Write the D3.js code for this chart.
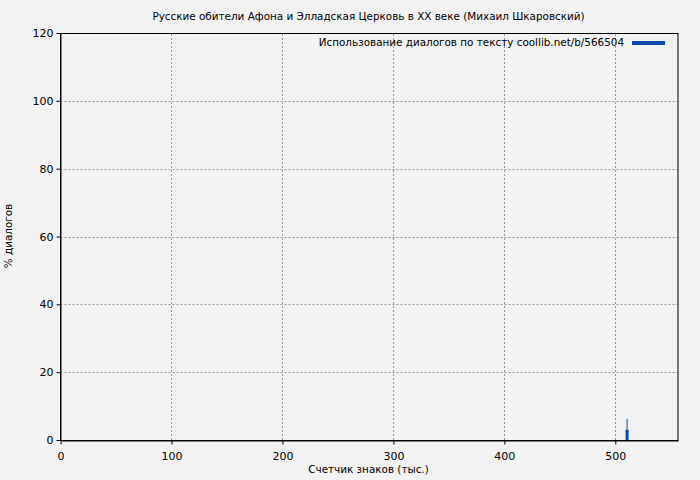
<!DOCTYPE html>
<html>
<head>
<meta charset="utf-8">
<script src="https://cdn.jsdelivr.net/npm/d3@7"></script>
<style>
  body { margin: 0; background: #f2f2f2; }
  svg { display: block; font-family: "DejaVu Sans", sans-serif; }
</style>
</head>
<body>
<div id="chart"></div>
<script>
// Chart data.
var title = 'Русские обители Афона и Элладская Церковь в XX веке (Михаил Шкаровский)';
var legendLabel = 'Использование диалогов по тексту coollib.net/b/566504';
var xTicks = [0, 100, 200, 300, 400, 500];
var yTicks = [0, 20, 40, 60, 80, 100, 120];
var wideX = [510.6];
var wideVals = [3];
var thinX = [510.6];
var thinVals = [6.2];

var W = 700, H = 480;
var m = { top: 33, right: 22, bottom: 40, left: 60.5 };
var blue = '#0c47a8';
var fs = 10.4;

var svg = d3.select('#chart')
  .append('svg')
  .attr('width', W)
  .attr('height', H);

svg.append('rect')
  .attr('width', W)
  .attr('height', H)
  .attr('fill', '#f2f2f2');

var x = d3.scaleLinear().domain([0, 556.5]).range([m.left, W - m.right]);
var y = d3.scaleLinear().domain([0, 120]).range([H - m.bottom, m.top]);

// Grid.
var grid = svg.append('g')
  .attr('stroke', '#999')
  .attr('stroke-width', 1)
  .attr('stroke-dasharray', '2,2');
grid.selectAll('.gx')
  .data(xTicks.slice(1))
  .enter().append('line')
  .attr('x1', function (d) { return Math.round(x(d)) + 0.5; })
  .attr('x2', function (d) { return Math.round(x(d)) + 0.5; })
  .attr('y1', y(0))
  .attr('y2', y(120));
grid.selectAll('.gy')
  .data(yTicks.slice(1, -1))
  .enter().append('line')
  .attr('x1', x(0))
  .attr('x2', x.range()[1])
  .attr('y1', function (d) { return Math.round(y(d)) + 0.5; })
  .attr('y2', function (d) { return Math.round(y(d)) + 0.5; });

// Bars.
svg.selectAll('.wide')
  .data(wideVals)
  .enter().append('rect')
  .attr('x', function (d, i) { return x(wideX[i]) - 1.5; })
  .attr('width', 3)
  .attr('y', function (d) { return y(d); })
  .attr('height', function (d) { return y(0) - y(d); })
  .attr('fill', blue);
svg.selectAll('.thin')
  .data(thinVals)
  .enter().append('rect')
  .attr('x', function (d, i) { return x(thinX[i]) - 0.5; })
  .attr('width', 1)
  .attr('y', function (d) { return y(d); })
  .attr('height', function (d) { return y(0) - y(d); })
  .attr('fill', blue);

// Axes.
var xAxis = svg.append('g')
  .attr('transform', 'translate(0,' + (y(0) + 0.5) + ')')
  .call(d3.axisBottom(x).tickValues(xTicks).tickSize(4).tickSizeOuter(0));
var yAxis = svg.append('g')
  .attr('transform', 'translate(' + x(0) + ',0)')
  .call(d3.axisLeft(y).tickValues(yTicks).tickSize(4).tickSizeOuter(0));
[xAxis, yAxis].forEach(function (a) {
  a.selectAll('text').attr('font-size', 11).attr('fill', '#000')
    .style('font-family', '"DejaVu Sans", sans-serif');
  a.selectAll('line, path').attr('stroke', '#000');
});
xAxis.selectAll('text').attr('dy', '1.1em');

// Frame.
svg.append('rect')
  .attr('x', x(0))
  .attr('y', y(120) + 0.5)
  .attr('width', x.range()[1] - x(0))
  .attr('height', y(0) - y(120))
  .attr('fill', 'none')
  .attr('stroke', '#000');

// Texts.
svg.append('text')
  .attr('x', 368.5)
  .attr('y', 20)
  .attr('text-anchor', 'middle')
  .attr('font-size', fs)
  .text(title);
svg.append('text')
  .attr('x', 368.5)
  .attr('y', 473)
  .attr('text-anchor', 'middle')
  .attr('font-size', fs)
  .text('Счетчик знаков (тыс.)');
svg.append('text')
  .attr('transform', 'translate(12,236) rotate(-90)')
  .attr('text-anchor', 'middle')
  .attr('font-size', fs)
  .text('% диалогов');

// Legend.
svg.append('text')
  .attr('x', 624)
  .attr('y', 46)
  .attr('text-anchor', 'end')
  .attr('font-size', fs)
  .text(legendLabel);
svg.append('line')
  .attr('x1', 632)
  .attr('x2', 665)
  .attr('y1', 43)
  .attr('y2', 43)
  .attr('stroke', blue)
  .attr('stroke-width', 4);
</script>
</body>
</html>
